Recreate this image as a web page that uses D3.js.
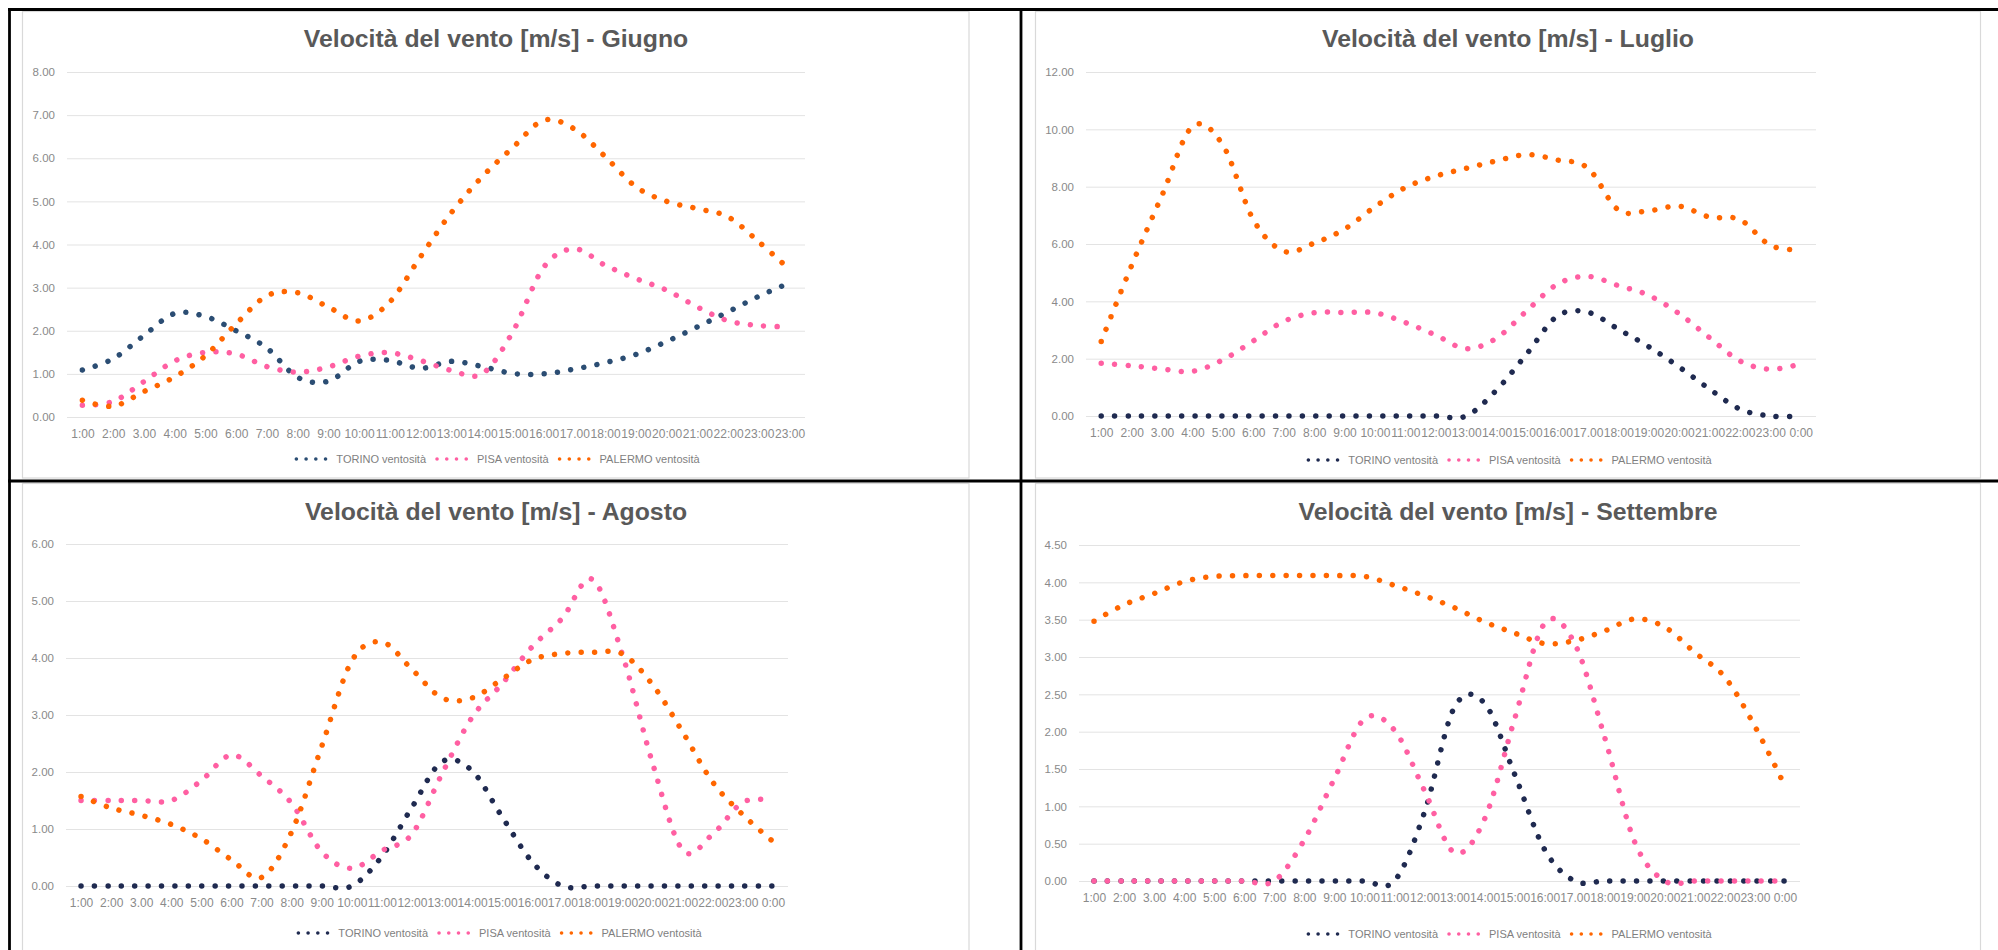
<!DOCTYPE html>
<html><head><meta charset="utf-8">
<script src="https://cdn.jsdelivr.net/npm/d3@7"></script>
<style>
body{margin:0;background:#fff}
svg{display:block}
text{font-family:"Liberation Sans",Arial,sans-serif}
</style>
</head><body>
<svg id="c" width="1998" height="950"></svg>
<script>
// ---------- data ----------
const hourLabels = ["1:00","2:00","3.00","4:00","5:00","6:00","7:00","8:00","9:00","10:00","11:00","12:00","13:00","14:00","15:00","16:00","17.00","18:00","19:00","20:00","21:00","22:00","23:00","0:00"];
const hourLabelsGiugno = ["1:00","2:00","3.00","4:00","5:00","6:00","7:00","8:00","9:00","10:00","11:00","12:00","13:00","14:00","15:00","16:00","17.00","18:00","19:00","20:00","21:00","22:00","23:00","23:00"];
const seriesNames = ["TORINO ventosità","PISA ventosità","PALERMO ventosità"];

const giugnoTorino  = [1.09,1.35,1.89,2.40,2.33,2.00,1.60,0.92,0.83,1.29,1.31,1.13,1.29,1.17,1.01,1.00,1.11,1.26,1.45,1.75,2.09,2.44,2.80,3.11];
const giugnoPisa    = [0.27,0.36,0.82,1.30,1.50,1.46,1.17,1.04,1.16,1.41,1.49,1.31,1.08,1.00,1.98,3.47,3.90,3.52,3.21,2.94,2.55,2.23,2.12,2.09];
const giugnoPalermo = [0.39,0.25,0.59,0.93,1.42,2.16,2.81,2.88,2.55,2.23,2.67,3.72,4.74,5.57,6.25,6.88,6.68,6.04,5.34,5.00,4.83,4.64,4.06,3.42];

const luglioTorino  = [0,0,0,0,0,0,0,0,0,0,0,0,0,0.91,2.18,3.49,3.62,3.03,2.42,1.71,0.94,0.24,0,0];
const luglioPisa    = [1.84,1.75,1.64,1.56,1.96,2.62,3.30,3.60,3.61,3.60,3.26,2.82,2.35,2.72,3.68,4.60,4.87,4.55,4.21,3.57,2.73,1.92,1.63,1.82];
const luglioPalermo = [2.60,5.25,7.70,10.10,9.45,6.85,5.75,6.03,6.52,7.30,7.97,8.37,8.64,8.90,9.12,8.93,8.65,7.19,7.16,7.32,6.94,6.85,5.95,5.80];

const agostoTorino  = [0,0,0,0,0,0,0,0,0,0,0.52,1.38,2.18,2.02,1.21,0.42,0,0,0,0,0,0,0,0];
const agostoPisa    = [1.50,1.50,1.50,1.50,1.85,2.30,1.93,1.45,0.60,0.31,0.62,0.91,1.97,2.96,3.55,4.20,4.70,5.38,4.05,2.15,0.63,0.91,1.47,1.50];
const agostoPalermo = [1.57,1.37,1.24,1.08,0.83,0.46,0.15,0.95,2.45,3.95,4.28,3.80,3.30,3.30,3.63,3.97,4.08,4.10,4.07,3.53,2.70,1.82,1.25,0.78];

const settembreTorino  = [0,0,0,0,0,0,0,0,0,0,0,0.92,2.33,2.38,1.43,0.42,0,0,0,0,0,0,0,0];
const settembrePisa    = [0,0,0,0,0,0,0,0.55,1.37,2.17,2.02,1.21,0.38,0.83,2.17,3.45,3.18,1.92,0.52,0,0,0,0,0];
const settembrePalermo = [3.48,3.70,3.85,4.01,4.08,4.09,4.09,4.09,4.09,4.08,3.96,3.82,3.66,3.47,3.32,3.18,3.22,3.35,3.51,3.40,3.06,2.73,2.07,1.27];

// ---------- chart setup ----------
const charts = [
  {title:"Velocità del vento [m/s] - Giugno", labels:hourLabelsGiugno, series:[giugnoTorino,giugnoPisa,giugnoPalermo], yMax:8, yStep:1,
   frame:[22.5,11.5,969,478], px:[67,805], py:[417,72], titleX:496, titleY:47, legendX:498, legendY:459, torino:"#2b4d73"},
  {title:"Velocità del vento [m/s] - Luglio", labels:hourLabels, series:[luglioTorino,luglioPisa,luglioPalermo], yMax:12, yStep:2,
   frame:[1035.5,11.5,1980.5,478], px:[1086,1816], py:[416,72], titleX:1508, titleY:47, legendX:1510, legendY:460, torino:"#1f2a50"},
  {title:"Velocità del vento [m/s] - Agosto", labels:hourLabels, series:[agostoTorino,agostoPisa,agostoPalermo], yMax:6, yStep:1,
   frame:[22.5,483.5,969,965], px:[66,788], py:[886,544], titleX:496, titleY:520, legendX:500, legendY:933, torino:"#1f2a50"},
  {title:"Velocità del vento [m/s] - Settembre", labels:hourLabels, series:[settembreTorino,settembrePisa,settembrePalermo], yMax:4.5, yStep:0.5,
   frame:[1035.5,483.5,1980.5,965], px:[1079,1800], py:[881,545], titleX:1508, titleY:520, legendX:1510, legendY:934, torino:"#1f2a50"}
];
const pisaColor = "#ff5fa2", palermoColor = "#ff6600";

const svg = d3.select("#c");
svg.append("rect").attr("width",1998).attr("height",950).attr("fill","#fff");

charts.forEach(c => {
  const g = svg.append("g");
  const [fx0,fy0,fx1,fy1] = c.frame;
  g.append("rect").attr("x",fx0).attr("y",fy0).attr("width",fx1-fx0).attr("height",fy1-fy0)
    .attr("fill","#fff").attr("stroke","#d9d9d9").attr("stroke-width",1.2);

  const idx = d3.range(c.labels.length);
  const x = d3.scalePoint().domain(idx).range(c.px).padding(0.5);
  const y = d3.scaleLinear().domain([0,c.yMax]).range(c.py);
  const w = c.px[1]-c.px[0];

  // y axis with gridlines
  const ya = g.append("g").attr("transform",`translate(${c.px[0]},0)`)
    .call(d3.axisLeft(y).tickValues(d3.range(0,c.yMax+c.yStep/2,c.yStep)).tickFormat(d3.format(".2f"))
      .tickSize(-w).tickPadding(12));
  ya.select(".domain").remove();
  ya.selectAll("line").attr("stroke","#e3e3e3").attr("stroke-width",1);
  ya.selectAll("text").attr("fill","#8a8a8a").style("font-size","11.5px").attr("font-family",null);

  // x axis labels
  const xa = g.append("g").attr("transform",`translate(0,${c.py[0]})`)
    .call(d3.axisBottom(x).tickFormat(i => c.labels[i]).tickSize(0).tickPadding(12));
  xa.select(".domain").remove();
  xa.selectAll("text").attr("fill","#8a8a8a").style("font-size","12px").attr("font-family",null);

  // title
  g.append("text").attr("x",c.titleX).attr("y",c.titleY).attr("text-anchor","middle")
    .attr("fill","#595959").style("font-size","24.8px").style("font-weight","bold").text(c.title);

  // lines
  const colors = [c.torino, pisaColor, palermoColor];
  const line = d3.line().x((d,i)=>x(i)).y(d=>y(d)).curve(d3.curveCatmullRom.alpha(0));
  c.series.forEach((s,k) => {
    g.append("path").attr("d",line(s)).attr("fill","none").attr("stroke",colors[k])
      .attr("stroke-width",5.5).attr("stroke-linecap","round").attr("stroke-dasharray","0.01 13.4");
  });

  // legend
  const lg = g.append("g");
  let cur = 0;
  seriesNames.forEach((name,k) => {
    const e = lg.append("g").attr("transform",`translate(${cur},0)`);
    e.append("line").attr("x1",0).attr("x2",29.2).attr("y1",0).attr("y2",0)
      .attr("stroke",colors[k]).attr("stroke-width",3.6).attr("stroke-linecap","round").attr("stroke-dasharray","0.01 9.72");
    const t = e.append("text").attr("x",40).attr("y",0).attr("dy","0.35em").attr("fill","#7f7f7f")
      .style("font-size","11px").text(name);
    cur += 40 + t.node().getComputedTextLength() + 11;
  });
  const total = cur - 11;
  lg.attr("transform",`translate(${c.legendX - total/2},${c.legendY})`);
});

// black table lines
const black = [[8,9.5,1998,9.5],[9.5,8,9.5,950],[1021,8,1021,950],[8,481,1998,481]];
svg.selectAll("line.tbl").data(black).join("line").attr("class","tbl")
  .attr("x1",d=>d[0]).attr("y1",d=>d[1]).attr("x2",d=>d[2]).attr("y2",d=>d[3])
  .attr("stroke","#000").attr("stroke-width",2.8);
</script>
</body></html>
